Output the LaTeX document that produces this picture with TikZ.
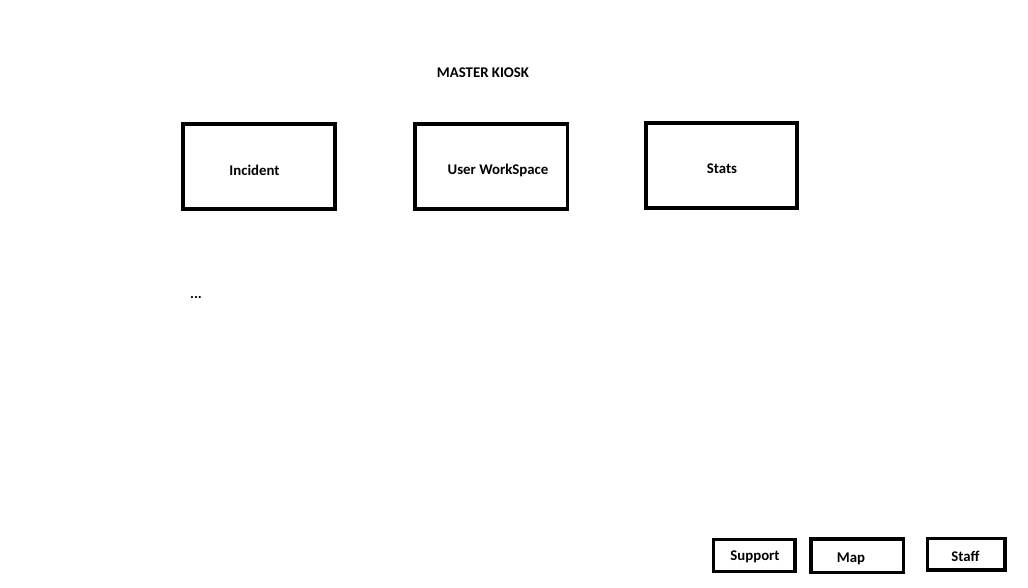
\documentclass[tikz,border=0pt]{standalone}
\usepackage{fontspec}
\setmainfont{Carlito}
\begin{document}
\begin{tikzpicture}[x=1pt,y=-1pt,
  box/.style={draw=black,line width=3.3pt,inner sep=0pt,outer sep=0pt},
  lbl/.style={font=\bfseries\fontsize{14.8}{17}\selectfont,inner sep=0pt,anchor=center}]
\useasboundingbox (0,0) rectangle (1028,588);
% boxes
\draw[box] (183,124) rectangle (335,209);
\draw[box] (415,124) rectangle (567.3,209);
\draw[box] (646,123) rectangle (797,208);
\draw[box] (713.3,539.3) rectangle (795,571.7);
\draw[box] (811,539) rectangle (903.3,572.6);
\draw[box] (927.3,538.3) rectangle (1005,570);
% labels
\node[lbl] (title) at (483,73) {MASTER KIOSK};
\node[lbl] (incident) at (254.5,170) {Incident};
\node[lbl] (uws) at (498,170) {User WorkSpace};
\node[lbl] (stats) at (722,169) {Stats};
\node[lbl] (support) at (755,557) {Support};
\node[lbl] (map) at (851,558.5) {Map};
\node[lbl] (staff) at (965.5,556) {Staff};
\node[lbl,anchor=base] (dots) at (196,298) {...};
\end{tikzpicture}
\end{document}
